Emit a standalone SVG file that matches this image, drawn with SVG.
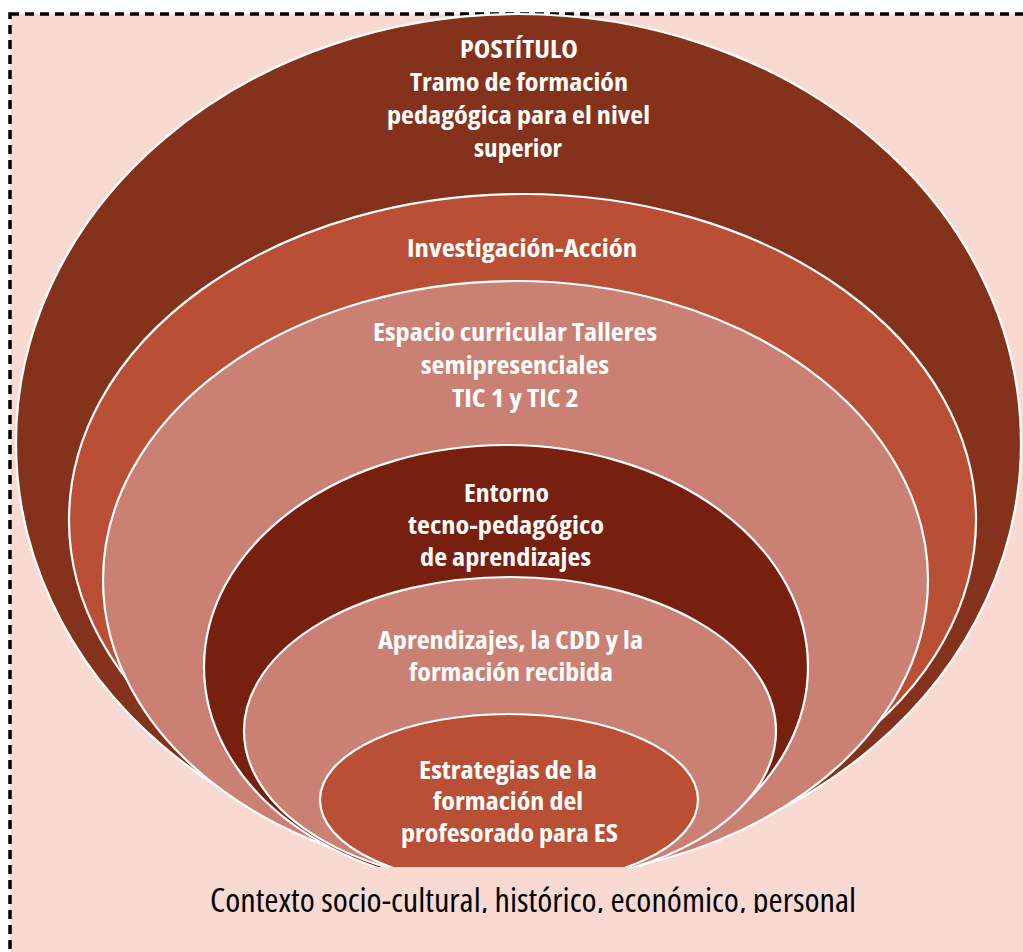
<svg xmlns="http://www.w3.org/2000/svg" width="1023" height="952" viewBox="0 0 1023 952">
<defs>
<clipPath id="clipBody"><rect x="0" y="0" width="1023" height="867"/></clipPath>
<clipPath id="clipCtx"><rect x="0" y="860" width="1023" height="53"/></clipPath>
<style>
.ring{stroke:#ffffff;stroke-width:2.2}
.lbl{font-family:"Open Sans","Noto Sans","Liberation Sans",sans-serif;font-weight:bold;font-stretch:condensed;font-size:24px;fill:#ffffff;text-anchor:middle}
.ctx{font-family:"Open Sans","Noto Sans","Liberation Sans",sans-serif;font-weight:normal;font-stretch:condensed;font-size:32px;fill:#000000;text-anchor:middle}
</style>
</defs>
<rect id="frame" x="10" y="14" width="1040" height="980" fill="#F9DAD3" stroke="#000000" stroke-width="3.5" stroke-dasharray="9 6"/>
<g id="rings" clip-path="url(#clipBody)">
<g id="node-postitulo">
<ellipse class="ring" cx="518.5" cy="443" rx="502.5" ry="429" fill="#84321B"/>
<text class="lbl"><tspan x="519" y="58" textLength="118" lengthAdjust="spacingAndGlyphs">POSTÍTULO</tspan><tspan x="519" y="91" textLength="218" lengthAdjust="spacingAndGlyphs">Tramo de formación</tspan><tspan x="518.5" y="124" textLength="263" lengthAdjust="spacingAndGlyphs">pedagógica para el nivel</tspan><tspan x="518" y="157" textLength="88" lengthAdjust="spacingAndGlyphs">superior</tspan></text>
</g>
<g id="node-investigacion">
<ellipse class="ring" cx="522.5" cy="520" rx="453.5" ry="326" fill="#B94F35"/>
<text class="lbl"><tspan x="522" y="257" textLength="230" lengthAdjust="spacingAndGlyphs">Investigación-Acción</tspan></text>
</g>
<g id="node-espacio">
<ellipse class="ring" cx="515.5" cy="580" rx="412.5" ry="299" fill="#CB8074"/>
<text class="lbl"><tspan x="515" y="341" textLength="284" lengthAdjust="spacingAndGlyphs">Espacio curricular Talleres</tspan><tspan x="515" y="374" textLength="188" lengthAdjust="spacingAndGlyphs">semipresenciales</tspan><tspan x="515.5" y="407" textLength="127" lengthAdjust="spacingAndGlyphs">TIC 1 y TIC 2</tspan></text>
</g>
<g id="node-entorno">
<ellipse class="ring" cx="506" cy="667" rx="302" ry="222" fill="#78200F"/>
<text class="lbl"><tspan x="506.5" y="502" textLength="85" lengthAdjust="spacingAndGlyphs">Entorno</tspan><tspan x="506" y="534" textLength="196" lengthAdjust="spacingAndGlyphs">tecno-pedagógico</tspan><tspan x="505.5" y="566" textLength="171" lengthAdjust="spacingAndGlyphs">de aprendizajes</tspan></text>
</g>
<g id="node-aprendizajes">
<ellipse class="ring" cx="510" cy="731" rx="266" ry="154" fill="#CB8074"/>
<text class="lbl"><tspan x="510.5" y="649" textLength="265" lengthAdjust="spacingAndGlyphs">Aprendizajes, la CDD y la</tspan><tspan x="511" y="681" textLength="204" lengthAdjust="spacingAndGlyphs">formación recibida</tspan></text>
</g>
<g id="node-estrategias">
<ellipse class="ring" cx="509" cy="800" rx="189" ry="86" fill="#B94F35"/>
<text class="lbl"><tspan x="508" y="779" textLength="178" lengthAdjust="spacingAndGlyphs">Estrategias de la</tspan><tspan x="508" y="810" textLength="150" lengthAdjust="spacingAndGlyphs">formación del</tspan><tspan x="509.5" y="842" textLength="217" lengthAdjust="spacingAndGlyphs">profesorado para ES</tspan></text>
</g>
</g>
<g id="connectors"/>
<g id="context" clip-path="url(#clipCtx)">
<text class="ctx" x="533" y="912" textLength="646" lengthAdjust="spacingAndGlyphs">Contexto socio-cultural, histórico, económico, personal</text>
</g>
</svg>
